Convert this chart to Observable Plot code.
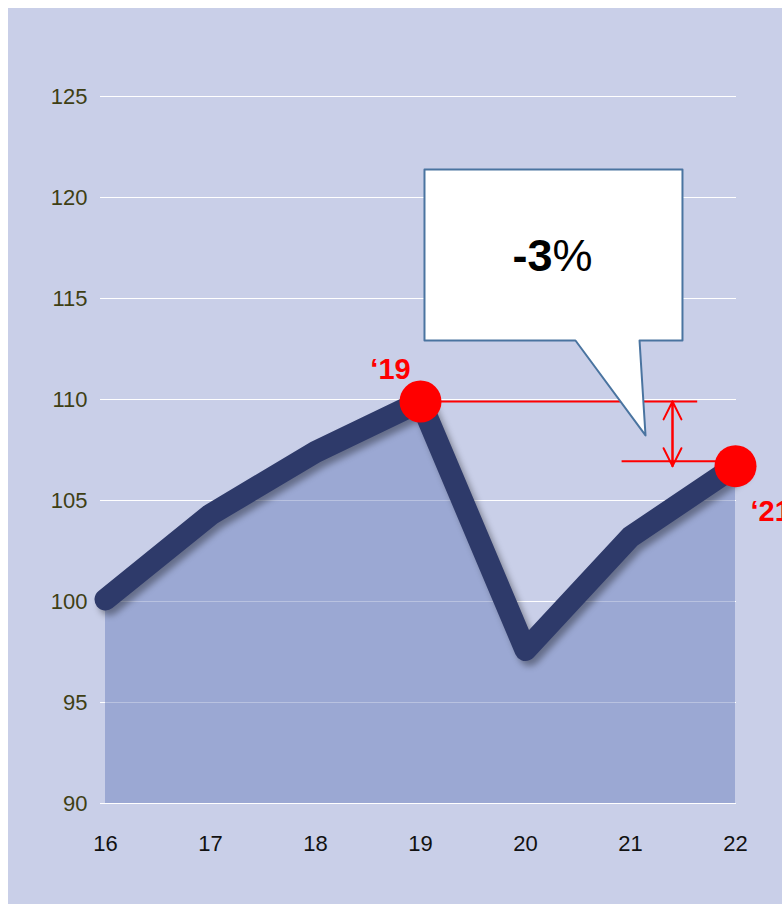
<!DOCTYPE html>
<html><head><meta charset="utf-8">
<script src="https://cdn.jsdelivr.net/npm/d3@7"></script>
<script src="https://cdn.jsdelivr.net/npm/@observablehq/plot@0.6"></script>
<style>body{margin:8px 0 0 8px;background:#fff;overflow:hidden;}</style>
</head><body><div id="chart"></div><script>
const years = [16, 17, 18, 19, 20, 21, 22];
const values = [100.1, 104.3, 107.4, 109.9, 97.6, 103.2, 106.7];
const yTicks = [90, 95, 100, 105, 110, 115, 120, 125];
const yDomain = [90, 125];
const highlights = [{year: 19, label: "‘19"}, {year: 22, label: "‘21"}];
const calloutText = ["-3", "%"];
// callout shape in data units (box with pointer tail)
const calloutX = [19.038, 21.495, 21.495, 21.086, 21.143, 20.476, 19.038, 19.038];
const calloutY = [121.39, 121.39, 112.92, 112.92, 108.22, 112.92, 112.92, 121.39];
const calloutTextPos = {x: 20.257, y: 117.05};
const refLine1 = {x1: 19, x2: 21.64};
const refLine2 = {x1: 20.92, x2: 22};
const arrowX = 21.4;

const data = years.map((x, i) => ({x, v: values[i]}));
const callout = calloutX.map((x, i) => ({x, y: calloutY[i]}));
const val = y => values[years.indexOf(y)];

const chart = Plot.plot({
  width: 774, height: 896,
  marginLeft: 97, marginRight: 47, marginTop: 88, marginBottom: 101,
  style: {background: "#c9cfe8", fontFamily: "'Liberation Sans', Arial, sans-serif", overflow: "hidden"},
  x: {domain: [16, 22], label: null},
  y: {domain: yDomain, label: null},
  marks: [
    Plot.ruleY(yTicks, {stroke: "#ffffff", strokeWidth: 1.2, insetLeft: -5, insetRight: -1}),
    Plot.areaY(data, {x: "x", y1: yDomain[0], y2: "v", fill: "#9ba8d3"}),
    Plot.ruleY(yTicks.filter(t => t > yDomain[0]), {stroke: "#ffffff", strokeOpacity: 0.3, strokeWidth: 1.2}),
    Plot.axisY(yTicks, {tickSize: 0, tickPadding: 18, fontSize: 22, color: "#3f3f14"}),
    Plot.axisX(years, {tickSize: 0, tickPadding: 32, fontSize: 22, color: "#111111", tickFormat: d => String(d)}),
    Plot.line(data, {x: "x", y: "v", stroke: "#2e3a6a", strokeWidth: 22, strokeLinejoin: "round", strokeLinecap: "round", className: "mainline"}),
    Plot.ruleY([val(19)], {x1: refLine1.x1, x2: refLine1.x2, stroke: "red", strokeWidth: 2}),
    Plot.ruleY([val(22)], {x1: refLine2.x1, x2: refLine2.x2, stroke: "red", strokeWidth: 2, dy: -5}),
    Plot.arrow([{x: arrowX, a: val(19), b: val(22)}], {x1: "x", x2: "x", y1: "a", y2: "b", stroke: "red", strokeWidth: 2, headLength: 15, headAngle: 53}),
    Plot.arrow([{x: arrowX, a: val(19), b: val(22)}], {x1: "x", x2: "x", y1: "b", y2: "a", stroke: "red", strokeWidth: 2, headLength: 15, headAngle: 53}),
    Plot.dot(highlights, {x: "year", y: d => val(d.year), r: 21, fill: "#ff0000"}),
    Plot.text([highlights[0]], {x: "year", y: d => val(d.year), text: "label", fill: "#ff0000", fontSize: 29, fontWeight: "bold", dx: -30, dy: -32}),
    Plot.text([highlights[1]], {x: "year", y: d => val(d.year), text: "label", fill: "#ff0000", fontSize: 29, fontWeight: "bold", textAnchor: "start", dx: 15, dy: 46}),
    Plot.line(callout, {x: "x", y: "y", fill: "#ffffff", stroke: "#4a74a0", strokeWidth: 2, curve: "linear"}),
    Plot.text([calloutTextPos], {x: "x", y: "y", text: () => calloutText[0], fontSize: 45, fontWeight: "bold", fill: "#000", textAnchor: "end"}),
    Plot.text([calloutTextPos], {x: "x", y: "y", text: () => calloutText[1], fontSize: 45, fontWeight: "normal", fill: "#000", textAnchor: "start"})
  ]
});
d3.select(chart).selectAll(".mainline path").style("filter", "drop-shadow(4px 5px 3px rgba(0,0,0,0.35))");
document.getElementById("chart").appendChild(chart);
</script></body></html>
